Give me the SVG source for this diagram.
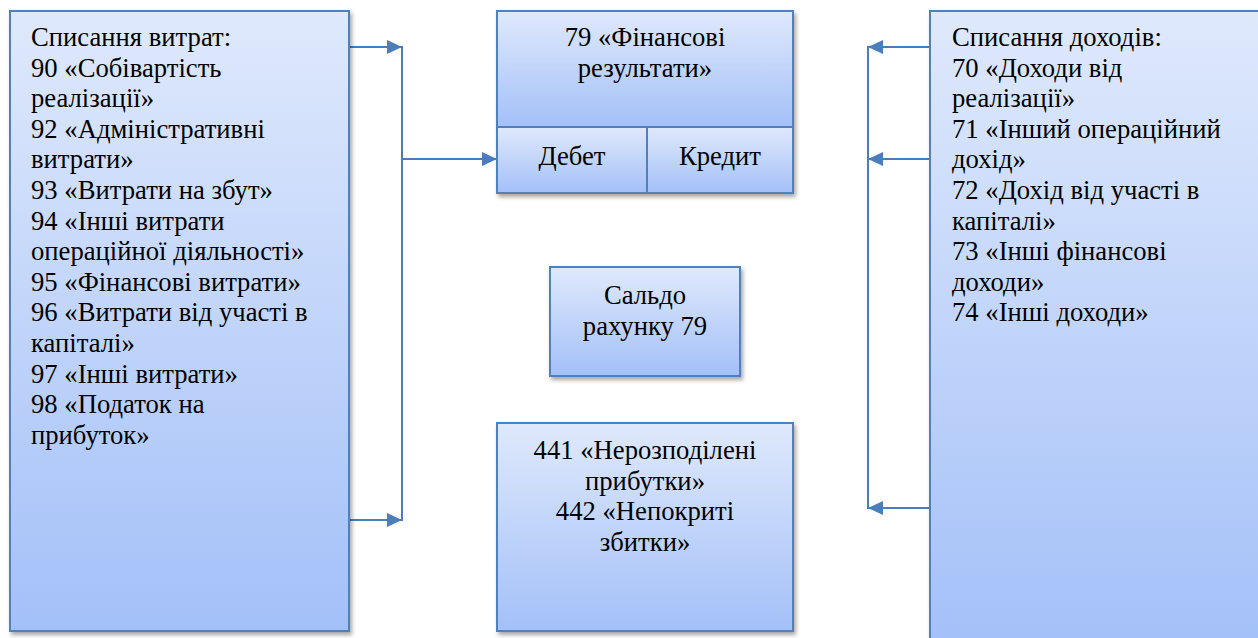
<svg xmlns="http://www.w3.org/2000/svg" width="1258" height="638" viewBox="0 0 1258 638">
<defs>
<linearGradient id="g" x1="0" y1="0" x2="0" y2="1">
<stop offset="0" stop-color="#dfe9fc"/>
<stop offset="1" stop-color="#a3c0f8"/>
</linearGradient>
<filter id="sh" x="-5%" y="-5%" width="115%" height="115%">
<feDropShadow dx="2" dy="3" stdDeviation="2" flood-color="#000" flood-opacity="0.35"/>
</filter>
<marker id="ah" viewBox="0 0 15 14" refX="15" refY="7" markerWidth="15" markerHeight="14" markerUnits="userSpaceOnUse" orient="auto">
<path d="M0,0 L15,7 L0,14 Z" fill="#4a7ebb"/>
</marker>
<style>
.box{fill:url(#g);stroke:#4f81bd;stroke-width:2}
.t{font-family:'Liberation Serif','Times New Roman',serif;font-size:26.67px;fill:#000}
.c{text-anchor:middle}
.ln{stroke:#4a7ebb;stroke-width:2;fill:none}
</style>
</defs>
<g id="connectors">
<line class="ln" x1="349" y1="47" x2="402" y2="47" marker-end="url(#ah)"/>
<line class="ln" x1="349" y1="520" x2="402" y2="520" marker-end="url(#ah)"/>
<line class="ln" x1="402" y1="46" x2="402" y2="521"/>
<line class="ln" x1="402" y1="159" x2="497" y2="159" marker-end="url(#ah)"/>
<line class="ln" x1="930" y1="47" x2="868" y2="47" marker-end="url(#ah)"/>
<line class="ln" x1="930" y1="159" x2="868" y2="159" marker-end="url(#ah)"/>
<line class="ln" x1="930" y1="508" x2="868" y2="508" marker-end="url(#ah)"/>
<line class="ln" x1="868" y1="46" x2="868" y2="509"/>
</g>
<g id="left">
<rect class="box" x="10" y="11" width="339" height="620" filter="url(#sh)"/>
<text class="t">
<tspan x="31" y="46">Списання витрат:</tspan>
<tspan x="31" y="76.6">90 «Собівартість</tspan>
<tspan x="31" y="107.2">реалізації»</tspan>
<tspan x="31" y="137.8">92 «Адміністративні</tspan>
<tspan x="31" y="168.4">витрати»</tspan>
<tspan x="31" y="199">93 «Витрати на збут»</tspan>
<tspan x="31" y="229.6">94 «Інші витрати</tspan>
<tspan x="31" y="260.2">операційної діяльності»</tspan>
<tspan x="31" y="290.8">95 «Фінансові витрати»</tspan>
<tspan x="31" y="321.4">96 «Витрати від участі в</tspan>
<tspan x="31" y="352">капіталі»</tspan>
<tspan x="31" y="382.6">97 «Інші витрати»</tspan>
<tspan x="31" y="413.2">98 «Податок на</tspan>
<tspan x="31" y="443.8">прибуток»</tspan>
</text>
</g>
<g id="fin79">
<g filter="url(#sh)">
<rect class="box" x="497" y="11" width="296" height="116"/>
<rect class="box" x="497" y="127" width="150" height="66"/>
<rect class="box" x="647" y="127" width="146" height="66"/>
</g>
<text class="t c"><tspan x="645" y="46">79 «Фінансові</tspan><tspan x="645" y="76.6">результати»</tspan></text>
<text class="t c" x="572" y="165">Дебет</text>
<text class="t c" x="720" y="165">Кредит</text>
</g>
<g id="saldo">
<rect class="box" x="550" y="267" width="190" height="109" filter="url(#sh)"/>
<text class="t c"><tspan x="645" y="304">Сальдо</tspan><tspan x="645" y="334.6">рахунку 79</tspan></text>
</g>
<g id="retained">
<rect class="box" x="497" y="423" width="296" height="208" filter="url(#sh)"/>
<text class="t c"><tspan x="645" y="459">441 «Нерозподілені</tspan><tspan x="645" y="489.6">прибутки»</tspan><tspan x="645" y="520.2">442 «Непокриті</tspan><tspan x="645" y="550.8">збитки»</tspan></text>
</g>
<g id="right">
<rect class="box" x="930" y="11" width="340" height="640" filter="url(#sh)"/>
<text class="t">
<tspan x="952" y="46">Списання доходів:</tspan>
<tspan x="952" y="76.6">70 «Доходи від</tspan>
<tspan x="952" y="107.2">реалізації»</tspan>
<tspan x="952" y="137.8">71 «Інший операційний</tspan>
<tspan x="952" y="168.4">дохід»</tspan>
<tspan x="952" y="199">72 «Дохід від участі в</tspan>
<tspan x="952" y="229.6">капіталі»</tspan>
<tspan x="952" y="260.2">73 «Інші фінансові</tspan>
<tspan x="952" y="290.8">доходи»</tspan>
<tspan x="952" y="321.4">74 «Інші доходи»</tspan>
</text>
</g>
</svg>
